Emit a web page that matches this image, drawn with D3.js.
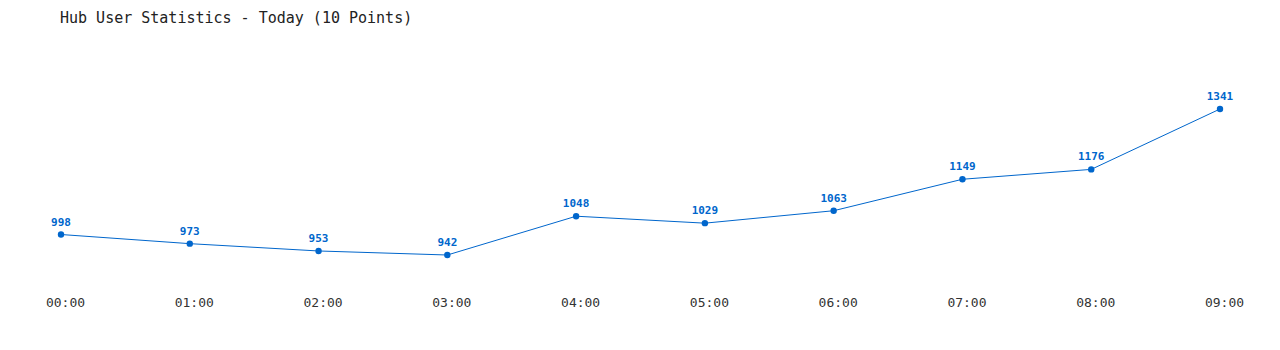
<!DOCTYPE html>
<html>
<head>
<meta charset="utf-8">
<script src="https://d3js.org/d3.v7.min.js"></script>
<style>
    body { margin: 0; background: #fff; }
    text { font-family: "DejaVu Sans Mono", "Liberation Mono", monospace; }
</style>
</head>
<body>
<div id="chart"></div>
<script>
    // chart data
    var hours = ['00:00', '01:00', '02:00', '03:00', '04:00', '05:00', '06:00', '07:00', '08:00', '09:00'];
    var users = [998, 973, 953, 942, 1048, 1029, 1063, 1149, 1176, 1341];
    var title = 'Hub User Statistics - Today (10 Points)';

    var width = 1280, height = 350;
    var lineColor = '#0066cc';

    var svg = d3.select('#chart').append('svg')
        .attr('width', width)
        .attr('height', height);

    // scales
    var x = d3.scalePoint().domain(hours).range([61, 1220]);
    var y = d3.scaleLinear()
        .domain([d3.min(users), d3.max(users)])
        .range([255, 109]);

    svg.append('text')
        .attr('x', 60)
        .attr('y', 23)
        .attr('font-size', 15)
        .attr('fill', '#222')
        .text(title);

    // x axis labels only, no line
    var xAxis = d3.axisBottom(x).tickSize(0).tickPadding(0);
    var gx = svg.append('g')
        .attr('transform', 'translate(4,298)')
        .call(xAxis);
    gx.select('.domain').remove();
    gx.selectAll('text')
        .attr('font-size', 13)
        .attr('fill', '#333')
        .attr('font-family', '"DejaVu Sans Mono", monospace');

    var line = d3.line()
        .x(function(d, i) { return x(hours[i]); })
        .y(function(d) { return y(d); });

    svg.append('path')
        .datum(users)
        .attr('d', line)
        .attr('fill', 'none')
        .attr('stroke', lineColor)
        .attr('stroke-width', 1);

    svg.selectAll('.dot')
        .data(users)
        .enter()
        .append('circle')
        .attr('class', 'dot')
        .attr('cx', function(d, i) { return x(hours[i]); })
        .attr('cy', function(d) { return y(d); })
        .attr('r', 3.2)
        .attr('fill', lineColor);

    svg.selectAll('.val')
        .data(users)
        .enter()
        .append('text')
        .attr('class', 'val')
        .attr('x', function(d, i) { return x(hours[i]); })
        .attr('y', function(d) { return y(d) - 9; })
        .attr('text-anchor', 'middle')
        .attr('font-size', 11)
        .attr('font-weight', 'bold')
        .attr('fill', lineColor)
        .text(function(d) { return d; });
</script>
</body>
</html>
